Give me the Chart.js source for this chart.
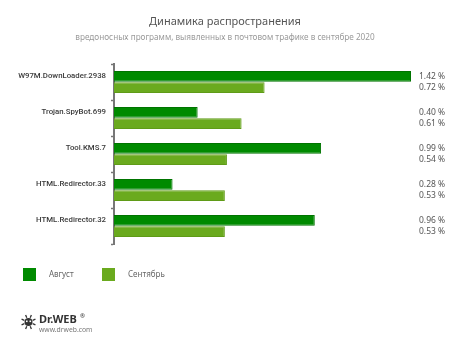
<!DOCTYPE html>
<html>
<head>
<meta charset="utf-8">
<script src="https://cdn.jsdelivr.net/npm/chart.js@4/dist/chart.umd.min.js"></script>
<style>
  html, body { margin: 0; padding: 0; background: #fff; }
  #wrap { position: relative; width: 450px; height: 344px; }
</style>
</head>
<body>
<div id="wrap"><canvas id="chart" width="450" height="344"></canvas></div>
<script>
const categories = ['W97M.DownLoader.2938', 'Trojan.SpyBot.699', 'Tool.KMS.7', 'HTML.Redirector.33', 'HTML.Redirector.32'];
const august = [1.42, 0.40, 0.99, 0.28, 0.96];
const september = [0.72, 0.61, 0.54, 0.53, 0.53];
const seriesNames = ['Август', 'Сентябрь'];
const colors = ['#008a00', '#6aaa1e'];
const borders = ['#007400', '#5f9b17'];

const FONT = "'Noto Sans', 'DejaVu Sans', sans-serif";
const LABEL_FONT = "Roboto, 'Noto Sans', sans-serif";

// titles, per-bar value labels, legend and logo
const extras = {
  id: 'extras',
  afterDraw(chart) {
    const ctx = chart.ctx;
    const area = chart.chartArea;
    ctx.save();
    ctx.textAlign = 'center';
    ctx.textBaseline = 'middle';
    ctx.fillStyle = '#555';
    ctx.font = '11px ' + FONT;
    ctx.fillText('Динамика распространения', 225, 22);
    ctx.fillStyle = '#9a9a9a';
    ctx.font = '8.2px ' + FONT;
    ctx.fillText('вредоносных программ, выявленных в почтовом трафике в сентябре 2020', 225, 38);

    // value labels next to the right edge
    ctx.textAlign = 'left';
    ctx.fillStyle = '#555';
    ctx.font = '8.5px ' + FONT;
    chart.data.datasets.forEach((ds, i) => {
      chart.getDatasetMeta(i).data.forEach((bar, j) => {
        ctx.fillText(ds.data[j].toFixed(2) + ' %', area.right + 8, bar.y);
      });
    });

    // legend
    const lx = [23, 102];
    chart.data.datasets.forEach((ds, i) => {
      ctx.fillStyle = ds.backgroundColor;
      ctx.fillRect(lx[i], 268, 13, 13);
      ctx.fillStyle = '#666';
      ctx.font = '8px ' + FONT;
      ctx.fillText(ds.label, lx[i] + 26, 275);
    });

    // Dr.WEB logo
    ctx.strokeStyle = '#333';
    ctx.fillStyle = '#333';
    ctx.lineWidth = 1.3;
    const cx = 28.5, cy = 321;
    ctx.beginPath();
    ctx.arc(cx, cy + 1, 4, 0, Math.PI * 2);
    ctx.fill();
    for (let k = 0; k < 8; k++) {
      const a = Math.PI * (k / 8) * 2 + Math.PI / 8;
      ctx.beginPath();
      ctx.moveTo(cx + Math.cos(a) * 4.5, cy + 1 + Math.sin(a) * 4.5);
      ctx.lineTo(cx + Math.cos(a) * 7.5, cy + 1 + Math.sin(a) * 7.5);
      ctx.stroke();
    }
    ctx.fillStyle = '#fff';
    ctx.fillRect(cx - 2.5, cy - 0.5, 1.6, 1.6);
    ctx.fillRect(cx + 1, cy - 0.5, 1.6, 1.6);
    ctx.fillStyle = '#333';
    ctx.font = 'bold 11px ' + FONT;
    ctx.fillText('Dr.WEB', 39, 320);
    ctx.font = '6px ' + FONT;
    ctx.fillText('®', 80, 316);
    ctx.fillStyle = '#777';
    ctx.font = '6.8px ' + FONT;
    ctx.fillText('www.drweb.com', 39, 330);
    ctx.restore();
  }
};

new Chart(document.getElementById('chart'), {
  type: 'bar',
  data: {
    labels: categories,
    datasets: [
      { label: seriesNames[0], data: august, backgroundColor: colors[0], borderColor: borders[0], borderWidth: 1 },
      { label: seriesNames[1], data: september, backgroundColor: colors[1], borderColor: borders[1], borderWidth: 1 }
    ]
  },
  options: {
    indexAxis: 'y',
    responsive: false,
    animation: false,
    events: [],
    layout: { padding: { top: 64, bottom: 100, left: 0, right: 39 } },
    datasets: { bar: { categoryPercentage: 0.63, barPercentage: 0.94 } },
    scales: {
      x: { display: false, min: 0, max: 1.42 },
      y: {
        afterFit(scale) { scale.width = 114; },
        border: { display: true, color: '#777', width: 2 },
        grid: { drawOnChartArea: false, offset: true, tickLength: 3, color: '#777', tickWidth: 1.5 },
        ticks: { padding: 5, labelOffset: -6, color: '#3a3a3a', font: { family: LABEL_FONT, size: 7.8, weight: '500' } }
      }
    },
    plugins: { legend: { display: false }, title: { display: false }, tooltip: { enabled: false } }
  },
  plugins: [extras]
});
</script>
</body>
</html>
